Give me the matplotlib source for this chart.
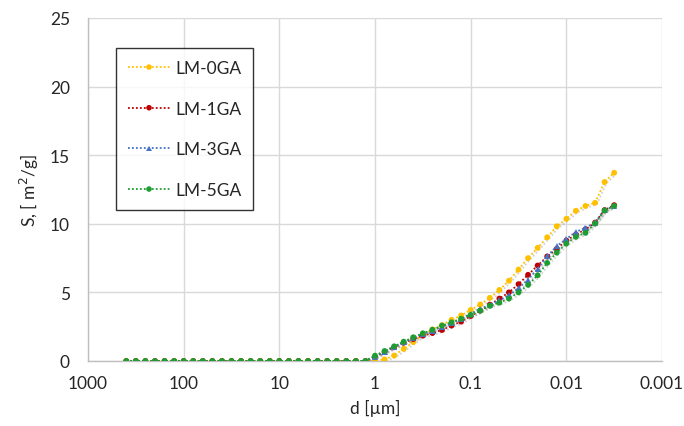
import numpy as np
import matplotlib
matplotlib.use("Agg")
import matplotlib.pyplot as plt
import matplotlib.patheffects as pe
from matplotlib.ticker import FixedLocator, FixedFormatter, NullLocator

# particle diameter classes (µm): log-spaced, 10^2.6 ... 10^-2.5
log_d = [2.6, 2.5, 2.4, 2.3, 2.2, 2.1, 2.0, 1.9, 1.8, 1.7, 1.6, 1.5, 1.4, 1.3,
         1.2, 1.1, 1.0, 0.9, 0.8, 0.7, 0.6, 0.5, 0.4, 0.3, 0.2, 0.1,
         0.0, -0.1, -0.2, -0.3, -0.4, -0.5, -0.6, -0.7, -0.8, -0.9, -1.0,
         -1.1, -1.2, -1.3, -1.4, -1.5, -1.6, -1.7, -1.8, -1.9, -2.0,
         -2.1, -2.2, -2.3, -2.4, -2.5]
d = [10 ** v for v in log_d]

zeros = [0.0] * 26
lm0 = zeros + [0.04, 0.12, 0.40, 0.88, 1.38, 1.90, 2.30, 2.62, 3.00, 3.32, 3.72,
               4.12, 4.60, 5.18, 5.85, 6.66, 7.50, 8.25, 9.02, 9.82, 10.36,
               10.95, 11.30, 11.53, 13.05, 13.72]
lm1 = zeros + [0.30, 0.65, 1.00, 1.33, 1.60, 1.85, 2.04, 2.26, 2.58, 2.87, 3.28,
               3.67, 4.10, 4.55, 5.00, 5.60, 6.28, 6.96, 7.62, 8.18, 8.78,
               9.22, 9.60, 10.08, 11.00, 11.36]
lm3 = zeros + [0.33, 0.70, 1.03, 1.38, 1.68, 1.98, 2.22, 2.50, 2.78, 3.05, 3.45,
               3.80, 4.10, 4.42, 4.80, 5.30, 5.93, 6.72, 7.64, 8.37, 8.90,
               9.42, 9.70, 10.10, 11.02, 11.30]
lm5 = zeros + [0.39, 0.73, 1.07, 1.41, 1.73, 2.02, 2.28, 2.58, 2.82, 3.08, 3.36,
               3.67, 4.02, 4.25, 4.55, 5.00, 5.55, 6.25, 7.15, 7.90, 8.56,
               9.05, 9.34, 10.02, 10.97, 11.30]

series = [
    ("LM-0GA", lm0, "#FFC000", "o"),
    ("LM-1GA", lm1, "#C00000", "o"),
    ("LM-3GA", lm3, "#4472C4", "^"),
    ("LM-5GA", lm5, "#1E9E32", "o"),
]

x_ticks = [1000, 100, 10, 1, 0.1, 0.01, 0.001]
x_labels = ["1000", "100", "10", "1", "0.1", "0.01", "0.001"]
y_ticks = [0, 5, 10, 15, 20, 25]

plt.rcParams['font.family'] = ['Lato', 'DejaVu Sans']

fig = plt.figure(figsize=(6.84, 4.27), dpi=100)
ax = fig.add_axes([88 / 684, 1 - 362 / 427, (662 - 88) / 684, (362 - 19) / 427])

shadow = [pe.SimpleLineShadow(offset=(1.2, -1.2), shadow_color="#808080", alpha=0.35),
          pe.Normal()]
for name, vals, col, mk in series:
    ax.plot(d, vals, linestyle=(0, (1, 1.2)), linewidth=1.3, color=col,
            marker=mk, markersize=4.2 if mk == "o" else 4.5,
            markeredgewidth=0, label=name, zorder=3, path_effects=shadow)

ax.set_xscale("log")
ax.set_xlim(1000, 0.001)
ax.set_ylim(0, 25)
ax.xaxis.set_major_locator(FixedLocator(x_ticks))
ax.xaxis.set_major_formatter(FixedFormatter(x_labels))
ax.xaxis.set_minor_locator(NullLocator())
ax.set_yticks(y_ticks)

ax.grid(True, color="#D9D9D9", linewidth=1.0, zorder=0)
ax.set_axisbelow(True)
for s in ["top", "right"]:
    ax.spines[s].set_visible(False)
for s in ["left", "bottom"]:
    ax.spines[s].set_color("#BFBFBF")
    ax.spines[s].set_linewidth(1.0)

ax.tick_params(axis="both", length=0, labelsize=12.5, labelcolor="#262626")
ax.tick_params(axis="y", pad=13)
ax.tick_params(axis="x", pad=10)

ax.set_xlabel("d [µm]", fontsize=12.5, color="#262626", labelpad=6)
ax.set_ylabel("S, [ m$^2$/g]", fontsize=12.5, color="#262626", labelpad=6)

leg = ax.legend(loc="upper left", bbox_to_anchor=((116 - 88) / 574, 1 - (49 - 19) / 343),
                frameon=True, fancybox=False, fontsize=12.5, labelspacing=1.42,
                handlelength=2.4, handletextpad=0.3, borderpad=0.7, borderaxespad=0)
leg.get_frame().set_edgecolor("black")
leg.get_frame().set_linewidth(1.0)
for t in leg.get_texts():
    t.set_color("#262626")
for h in leg.get_lines():
    h.set_path_effects([pe.Normal()])
    h.set_markersize(4.0)

fig.savefig("out.png", dpi=100)
